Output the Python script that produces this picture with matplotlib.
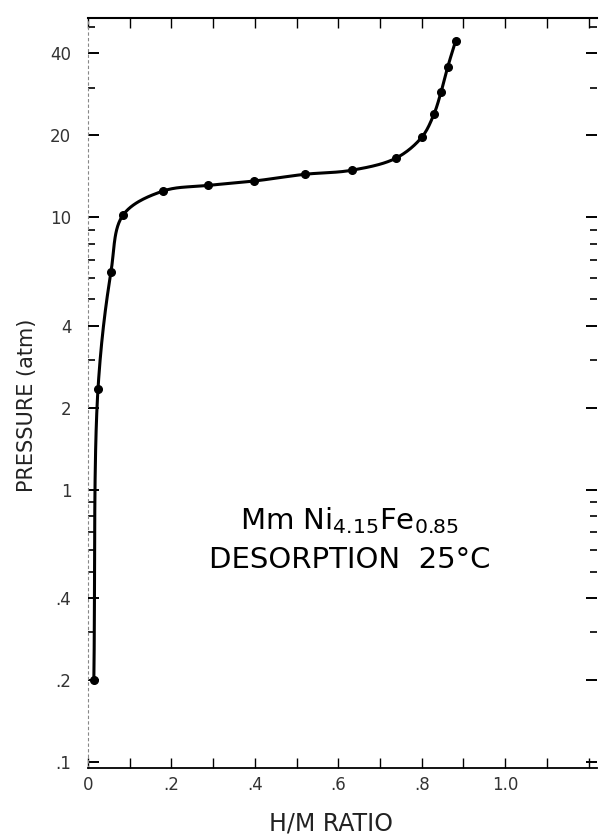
import numpy as np
import matplotlib
matplotlib.use("Agg")
import matplotlib.pyplot as plt
from matplotlib.ticker import FixedLocator, FixedFormatter, LogLocator, MultipleLocator, NullFormatter

plt.rcParams["font.family"] = "DejaVu Sans"
plt.rcParams["mathtext.default"] = "regular"

# desorption isotherm
h_m = [0.014, 0.024, 0.055, 0.084, 0.18, 0.287, 0.398, 0.52, 0.632,
       0.738, 0.80, 0.829, 0.846, 0.862, 0.881]
pressure = [0.2, 2.35, 6.3, 10.2, 12.5, 13.1, 13.6, 14.4, 14.9,
            16.5, 19.7, 23.9, 28.8, 35.6, 44.4]

y_ticks = [0.1, 0.2, 0.4, 1, 2, 4, 10, 20, 40]
y_tick_labels = [".1", ".2", ".4", "1", "2", "4", "10", "20", "40"]
x_ticks = [0, 0.2, 0.4, 0.6, 0.8, 1.0]
x_tick_labels = ["0", ".2", ".4", ".6", ".8", "1.0"]


def catmull_rom(P, n=30, alpha=0.5):
    # centripetal Catmull-Rom through the points (display coords)
    P = np.asarray(P, dtype=float)
    P = np.vstack([2 * P[0] - P[1], P, 2 * P[-1] - P[-2]])
    out = []
    for i in range(1, len(P) - 2):
        p0, p1, p2, p3 = P[i - 1:i + 3]
        t0 = 0.0
        t1 = t0 + np.linalg.norm(p1 - p0) ** alpha
        t2 = t1 + np.linalg.norm(p2 - p1) ** alpha
        t3 = t2 + np.linalg.norm(p3 - p2) ** alpha
        t = np.linspace(t1, t2, n)[:, None]
        A1 = (t1 - t) / (t1 - t0) * p0 + (t - t0) / (t1 - t0) * p1
        A2 = (t2 - t) / (t2 - t1) * p1 + (t - t1) / (t2 - t1) * p2
        A3 = (t3 - t) / (t3 - t2) * p2 + (t - t2) / (t3 - t2) * p3
        B1 = (t2 - t) / (t2 - t0) * A1 + (t - t0) / (t2 - t0) * A2
        B2 = (t3 - t) / (t3 - t1) * A2 + (t - t1) / (t3 - t1) * A3
        out.append((t2 - t) / (t2 - t1) * B1 + (t - t1) / (t2 - t1) * B2)
    return np.vstack(out)


fig = plt.figure(figsize=(6.09, 8.34), dpi=100)
ax = fig.add_axes([88 / 609, 1 - 768 / 834, 509 / 609, 750 / 834])
ax.set_yscale("log")
ax.set_xlim(0, 1.22)
ax.set_ylim(0.095, 54)

# smooth curve through the measured points, then the points themselves
pts = ax.transData.transform(np.column_stack([h_m, pressure]))
curve = ax.transData.inverted().transform(catmull_rom(pts))
ax.plot(curve[:, 0], curve[:, 1], color="black", lw=2.2, solid_capstyle="round")
ax.plot(h_m, pressure, "o", color="black", ms=5.5)

# axes styling (old scanned look)
ax.spines["right"].set_visible(False)
ax.spines["left"].set_linestyle((0, (2, 3)))
ax.spines["left"].set_color("#888888")
ax.spines["left"].set_linewidth(0.8)
ax.spines["top"].set_linewidth(1.5)
ax.spines["bottom"].set_linewidth(1.3)

ax.yaxis.set_major_locator(FixedLocator(y_ticks))
ax.yaxis.set_major_formatter(FixedFormatter(y_tick_labels))
ax.yaxis.set_minor_locator(LogLocator(base=10, subs=np.arange(1, 10)))
ax.yaxis.set_minor_formatter(NullFormatter())
ax.xaxis.set_major_locator(FixedLocator(x_ticks))
ax.xaxis.set_major_formatter(FixedFormatter(x_tick_labels))
ax.xaxis.set_minor_locator(MultipleLocator(0.1))

ax.tick_params(which="both", direction="in", top=True, right=True,
               labelright=False, labeltop=False, colors="black",
               labelcolor="#333333", labelsize=12)
ax.tick_params(axis="y", which="major", length=8, width=1.4, pad=12)
ax.tick_params(axis="y", which="minor", length=5, width=1.2)
ax.tick_params(axis="x", which="major", length=7, width=1.0, pad=6)
ax.tick_params(axis="x", which="minor", length=7, width=1.0)

ax.set_xlabel("H/M RATIO", fontsize=17, color="#222222")
ax.xaxis.set_label_coords(0.477, -0.058)
ax.set_ylabel("PRESSURE (atm)", fontsize=15, color="#222222")
ax.yaxis.set_label_coords(-0.100, 0.484)

ax.text(0.628, 0.77, r"Mm Ni$_{4.15}$Fe$_{0.85}$", fontsize=21,
        ha="center", va="center", color="black")
ax.text(0.628, 0.55, "DESORPTION  25°C", fontsize=21,
        ha="center", va="center", color="black")

fig.savefig("out.png", dpi=100)
